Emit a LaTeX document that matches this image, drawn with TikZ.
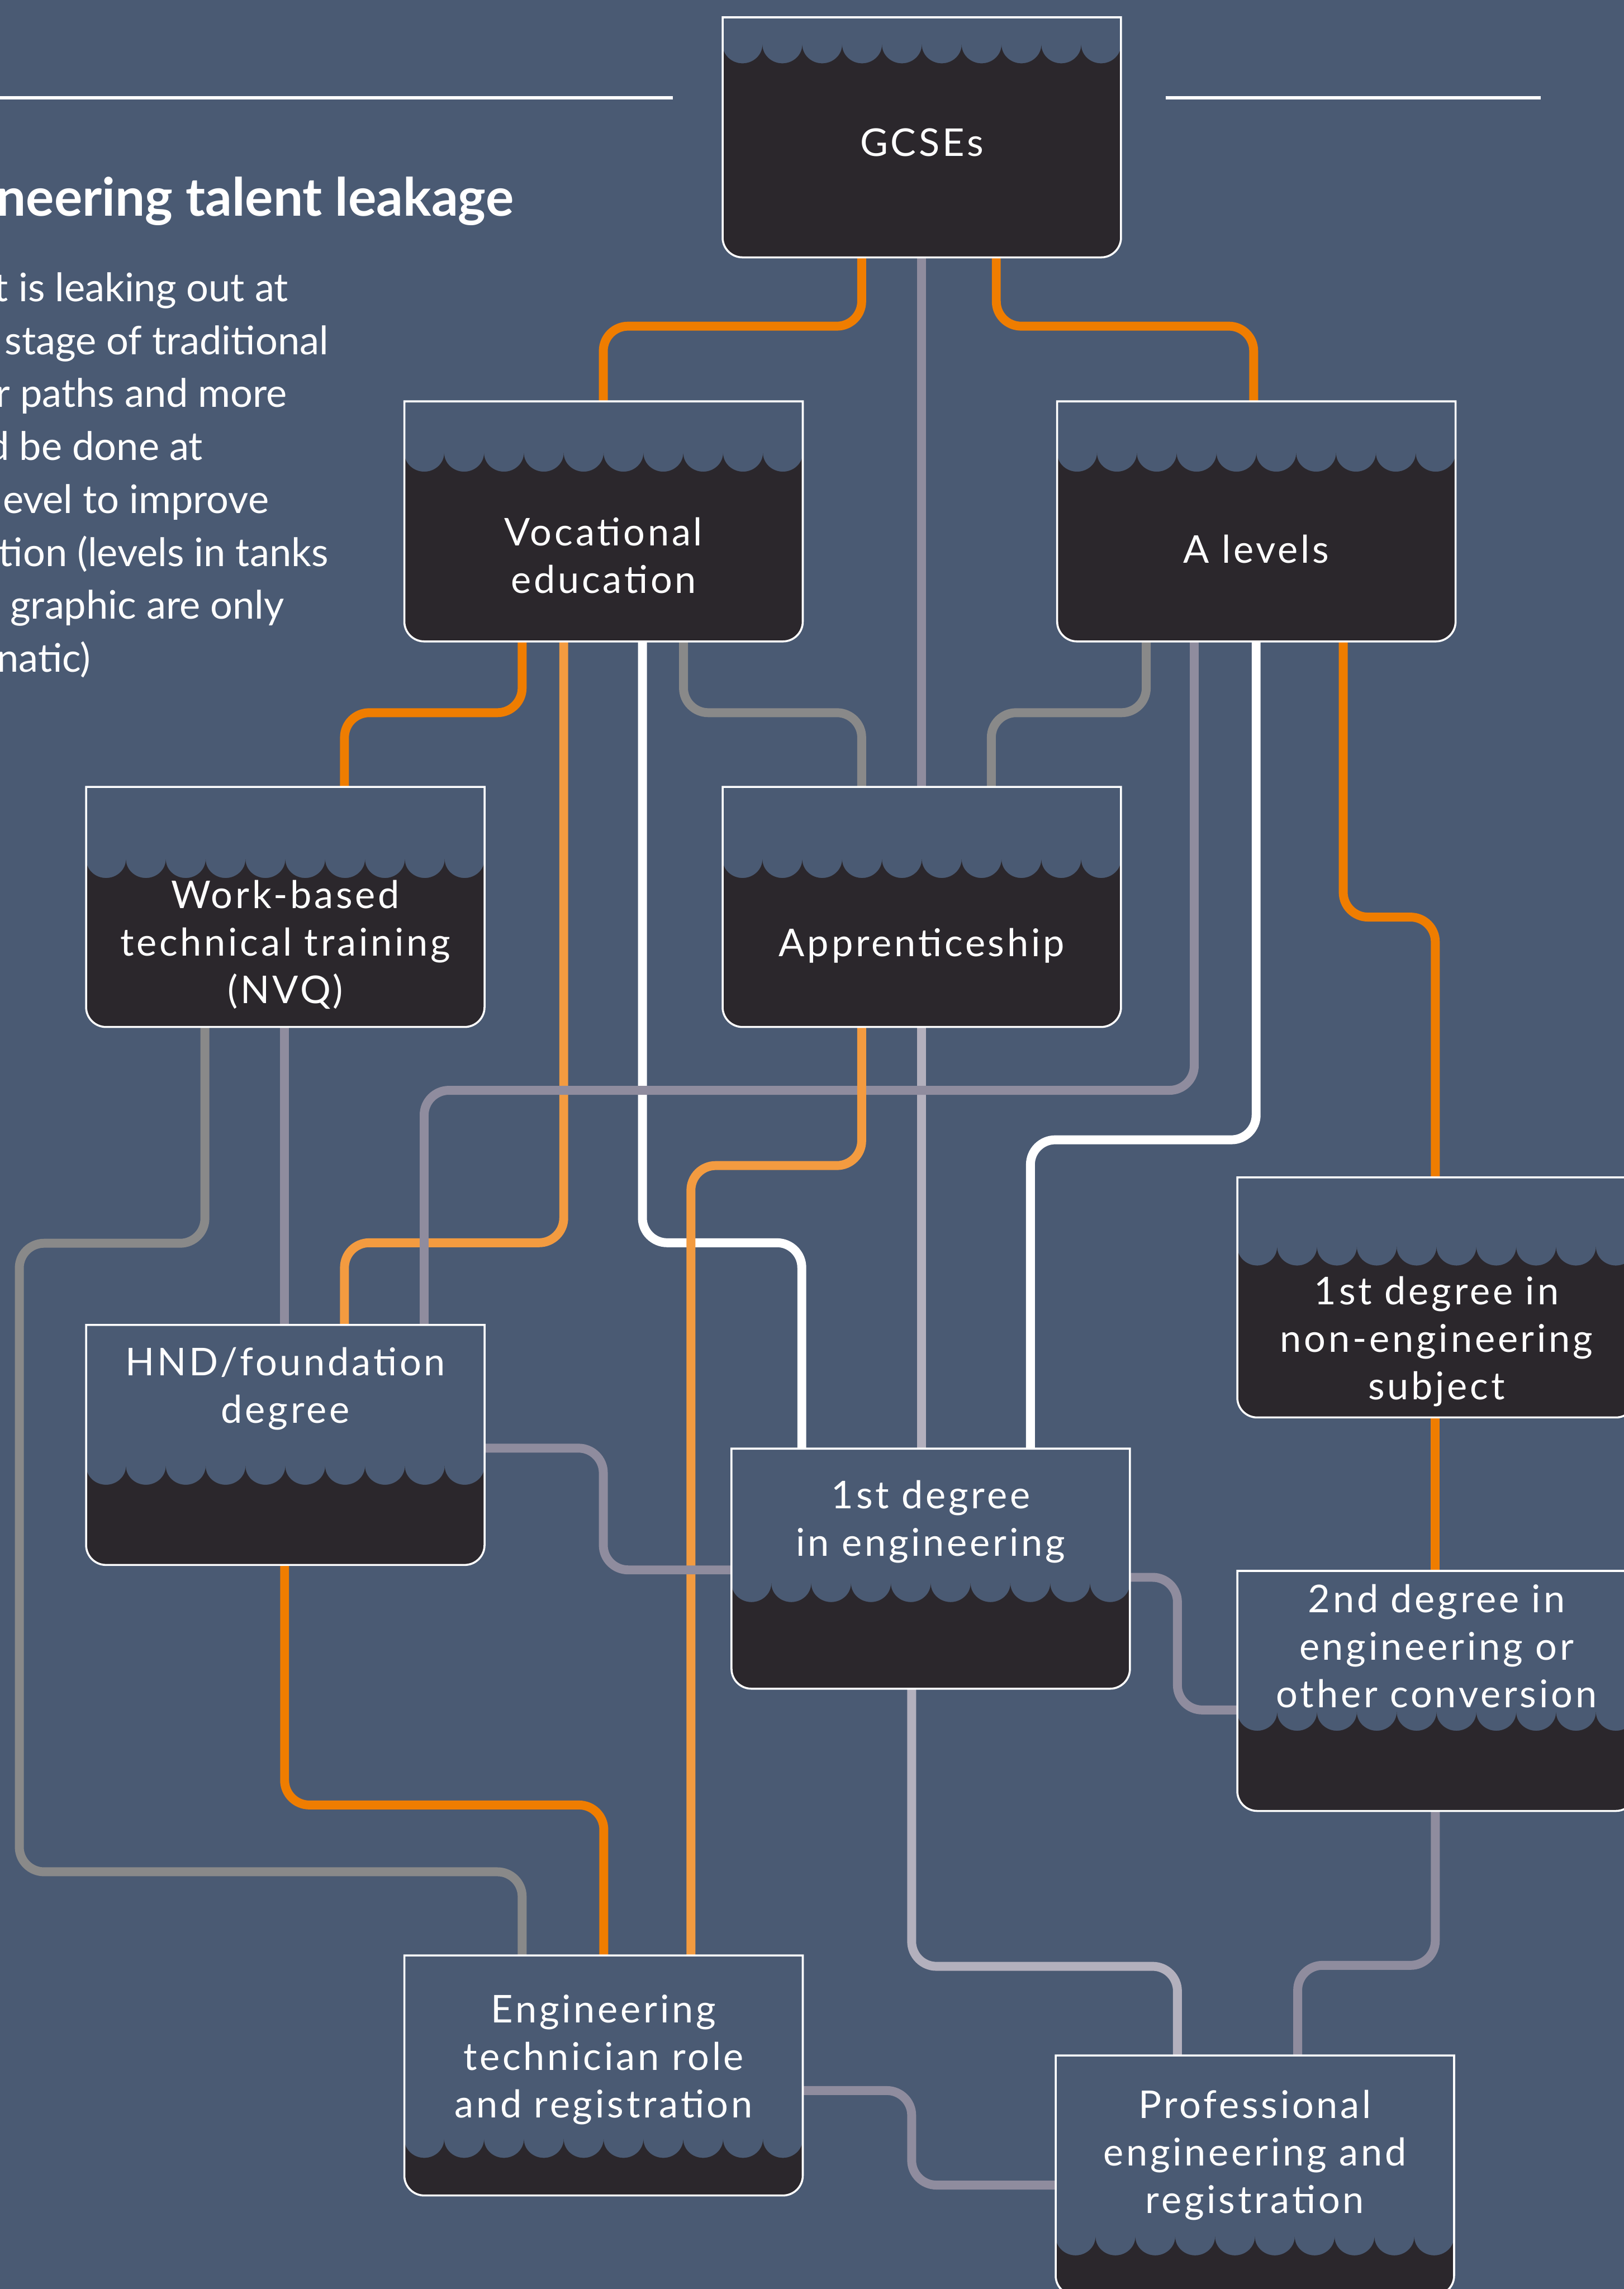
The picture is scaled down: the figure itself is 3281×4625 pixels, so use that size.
\documentclass[tikz,border=0pt]{standalone}
\usepackage{fontspec}
\setmainfont{Lato}
\newfontfamily\tankfont{Lato}[LetterSpace=7]
\usepackage{tikz}

\definecolor{bgblue}{HTML}{4A5A73}
\definecolor{tankdark}{HTML}{2B272C}
\definecolor{pipeorange}{HTML}{EF7D00}
\definecolor{pipeamber}{HTML}{F39B40}
\definecolor{pipemauve}{HTML}{8F8C9E}
\definecolor{pipegrey}{HTML}{898989}
\definecolor{pipesilver}{HTML}{B3B0BD}

\pgfdeclarelayer{back}
\pgfdeclarelayer{pipes}
\pgfsetlayers{back,pipes,main}

\tikzset{
  pipe/.style={line width=1.8mm, rounded corners=5mm},
  tankfill/.style={fill=tankdark},
  tankrim/.style={draw=white, line width=0.4mm},
  tankbox/.style={rectangle, minimum width=80.5mm, minimum height=48.5mm, inner sep=0pt, outer sep=0pt},
  tanklabel/.style={text=white, font=\tankfont\fontsize{22}{27.3}\selectfont, align=center, anchor=north, inner sep=0pt},
  headline/.style={text=white, font=\bfseries\fontsize{30.3}{36}\selectfont, anchor=base west, inner sep=0pt},
  note/.style={text=white, font=\fontsize{22.6}{30.4}\selectfont, anchor=base west, inner sep=0pt}
}

% tank: name, left, top, liquid level, label top, label
\newcommand{\tank}[6]{%
  \fill[tankfill] (#2,#3+#4)
    \foreach \k in {0,...,9}{
      .. controls (#2+80.5*\k,#3+#4+21) and (#2+80.5*\k+18,#3+#4+38) .. (#2+80.5*\k+40.25,#3+#4+38)
      .. controls (#2+80.5*\k+62.5,#3+#4+38) and (#2+80.5*\k+80.5,#3+#4+21) .. (#2+80.5*\k+80.5,#3+#4)}
    -- (#2+805,#3+445) .. controls (#2+805,#3+467) and (#2+787,#3+485) .. (#2+765,#3+485)
    -- (#2+40,#3+485) .. controls (#2+18,#3+485) and (#2,#3+467) .. (#2,#3+445) -- cycle;
  \draw[tankrim] (#2,#3) -- (#2,#3+445) .. controls (#2,#3+467) and (#2+18,#3+485) .. (#2+40,#3+485)
    -- (#2+765,#3+485) .. controls (#2+787,#3+485) and (#2+805,#3+467) .. (#2+805,#3+445)
    -- (#2+805,#3) -- cycle;
  \node[tankbox] (#1) at (#2+402.5,#3+242.5) {};
  \node[tanklabel] (#1-label) at (#2+402.5,#5) {#6};
}

\begin{document}
\begin{tikzpicture}[x=0.1mm, y=-0.1mm]
\useasboundingbox (0,0) rectangle (3281,4625);
\clip (0,0) rectangle (3281,4625);
\begin{pgfonlayer}{back}
\fill[bgblue] (0,0) rectangle (3281,4625);
\end{pgfonlayer}

% rules and text at the top left
\draw[white, line width=0.7mm] (0,198) -- (1360,198);
\draw[white, line width=0.7mm] (2355,198) -- (3113,198);
\node[headline] (title) at (-8,436) {neering talent leakage};
\foreach \dx/\txt [count=\i] in {-12/t is leaking out at, 9/stage of traditional, -9/r paths and more, -26/d be done at, 5/evel to improve, -3/tion (levels in tanks, 20/graphic are only, -7/natic)}
  \node[note] (note\i) at (\dx,502+107*\i) {\txt};

% tanks
\tank{gcse}{1460}{35}{55}{259}{GCSEs}
\tank{voc}{817}{811}{104}{1045}{Vocational\\education}
\tank{alev}{2136}{811}{104}{1080}{A levels}
\tank{work}{174}{1590}{146}{1778}{Work-based\\technical training\\(NVQ)}
\tank{appr}{1460}{1590}{146}{1875}{Apprenticeship}
\tank{noneng}{2500}{2379}{140}{2578}{1st degree in\\non-engineering\\subject}
\tank{hnd}{174}{2677}{285}{2722}{HND/foundation\\degree}
\tank{deg}{1478}{2927}{272}{2991}{1st degree\\in engineering}
\tank{second}{2500}{3174}{285}{3201}{2nd degree in\\engineering or\\other conversion}
\tank{tech}{817}{3951}{371}{4030}{Engineering\\technician role\\and registration}
\tank{prof}{2133}{4153}{366}{4222}{Professional\\engineering and\\registration}

% pipes
\begin{pgfonlayer}{pipes}
\draw[pipe, pipeorange] (1741,0 |- gcse.south) -- (1741,659) -- (1219,659) -- (1219,0 |- voc.north);
\draw[pipe, pipemauve] (1862,0 |- gcse.south) -- (1862,0 |- appr.north);
\draw[pipe, pipeorange] (2013,0 |- gcse.south) -- (2013,659) -- (2533,659) -- (2533,0 |- alev.north);
\draw[pipe, pipeorange] (1055,0 |- voc.south) -- (1055,1440) -- (696,1440) -- (696,0 |- work.north);
\draw[pipe, pipegrey] (1381,0 |- voc.south) -- (1381,1440) -- (1741,1440) -- (1741,0 |- appr.north);
\draw[pipe, pipegrey] (2316,0 |- alev.south) -- (2316,1440) -- (2003,1440) -- (2003,0 |- appr.north);
\draw[pipe, pipeamber] (1139,0 |- voc.south) -- (1139,2511) -- (696,2511) -- (696,0 |- hnd.north);
\draw[pipe, white] (1298,0 |- voc.south) -- (1298,2511) -- (1620,2511) -- (1620,0 |- deg.north);
\draw[pipe, pipesilver] (1862,0 |- appr.south) -- (1862,0 |- deg.north);
\draw[pipe, pipemauve] (2413,0 |- alev.south) -- (2413,2203) -- (857,2203) -- (857,0 |- hnd.north);
\draw[pipe, pipeamber] (1741,0 |- appr.south) -- (1741,2355) -- (1396,2355) -- (1396,0 |- tech.north);
\draw[pipe, white] (2538,0 |- alev.south) -- (2538,2303) -- (2082,2303) -- (2082,0 |- deg.north);
\draw[pipe, pipeorange] (2714,0 |- alev.south) -- (2714,1853) -- (2900,1853) -- (2900,0 |- noneng.north);
\draw[pipe, pipegrey] (414,0 |- work.south) -- (414,2512) -- (39,2512) -- (39,3782) -- (1055,3782) -- (1055,0 |- tech.north);
\draw[pipe, pipemauve] (575,0 |- work.south) -- (575,0 |- hnd.north);
\draw[pipe, pipemauve] (hnd.east |- 0,2926) -- (1219,2926) -- (1219,3172) -- (deg.west |- 0,3172);
\draw[pipe, pipeorange] (575,0 |- hnd.south) -- (575,3647) -- (1220,3647) -- (1220,0 |- tech.north);
\draw[pipe, pipeorange] (2900,0 |- noneng.south) -- (2900,0 |- second.north);
\draw[pipe, pipemauve] (deg.east |- 0,3187) -- (2379,3187) -- (2379,3455) -- (second.west |- 0,3455);
\draw[pipe, pipesilver] (1842,0 |- deg.south) -- (1842,3973) -- (2379,3973) -- (2379,0 |- prof.north);
\draw[pipe, pipemauve] (2900,0 |- second.south) -- (2900,3971) -- (2622,3971) -- (2622,0 |- prof.north);
\draw[pipe, pipemauve] (tech.east |- 0,4224) -- (1842,4224) -- (1842,4415) -- (prof.west |- 0,4415);
\end{pgfonlayer}
\end{tikzpicture}
\end{document}
